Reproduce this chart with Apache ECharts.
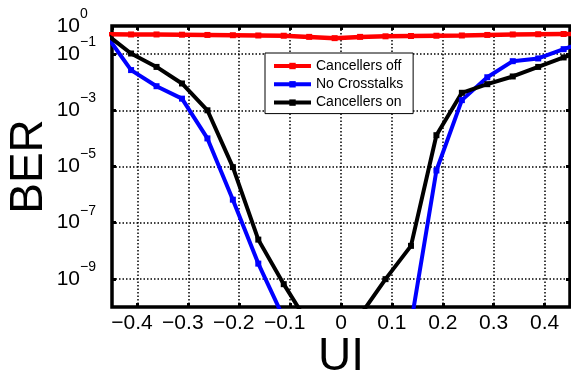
<!DOCTYPE html>
<html>
<head>
<meta charset="utf-8">
<script src="https://cdn.jsdelivr.net/npm/echarts@6/dist/echarts.min.js"></script>
<style>
  html, body { margin: 0; padding: 0; background: #fff; }
  #chart { width: 571px; height: 382px; }
</style>
</head>
<body>
<div id="chart"></div>
<script>
// sampling phase in UI
const ui = [-0.4625, -0.4125, -0.3625, -0.3125, -0.2625, -0.2125, -0.1625, -0.1125, -0.0625, -0.0125,
  0.0375, 0.0875, 0.1375, 0.1875, 0.2375, 0.2875, 0.3375, 0.3875, 0.4375, 0.4875];

const cancellersOff = [0.51, 0.50, 0.50, 0.49, 0.48, 0.47, 0.46, 0.45, 0.41, 0.37,
  0.41, 0.43, 0.44, 0.45, 0.46, 0.48, 0.50, 0.51, 0.52, 0.53];

const noCrosstalks = [0.5, 2.7e-2, 7.2e-3, 2.6e-3, 1.0e-4, 6.6e-7, 3.5e-9, 4e-11, 1e-13, 1e-14,
  1e-14, 1e-13, 2.5e-11, 7.2e-6, 2.3e-3, 1.5e-2, 5.6e-2, 7e-2, 0.15, 0.3];

const cancellersOn = [0.53, 1.05e-1, 3.5e-2, 9e-3, 1.0e-3, 9.5e-6, 2.5e-8, 6.5e-10, 2.3e-11, 1e-12,
  5e-11, 9.8e-10, 1.5e-8, 1.3e-4, 4.2e-3, 8.5e-3, 1.6e-2, 3.5e-2, 7.6e-2, 0.16];

const seriesNames = ["Cancellers off", "No Crosstalks", "Cancellers on"];
const seriesColors = ["#ff0000", "#0000ff", "#000000"];
// grid lines and ticks only every other decade
const oddDecades = [1e-1, 1e-3, 1e-5, 1e-7, 1e-9];

const font = "Liberation Sans, Arial, sans-serif";
const chart = echarts.init(document.getElementById("chart"));

const pairs = (arr) => ui.map((x, i) => [x, arr[i]]);
const decade = (v) => Math.round(Math.log10(v));
const labelled = (e) => e === 0 || e % 2 !== 0;

const dotted = { color: "#000", width: 1.5, type: [1.5, 2] };

const xBase = {
  type: "value",
  min: -0.45,
  max: 0.45,
  splitNumber: 9,
  axisLine: { show: false, onZero: false },
  axisTick: { show: true, inside: true, length: 4, lineStyle: { color: "#000", width: 3 } },
};

const yBase = {
  type: "log",
  logBase: 10,
  min: 1e-10,
  max: 1,
  interval: 1,
  axisLine: { show: false, onZero: false },
  axisTick: { show: true, inside: true, length: 4, customValues: oddDecades, lineStyle: { color: "#000", width: 3 } },
  splitLine: { show: false },
  axisLabel: { show: false },
};

const option = {
  animation: false,
  backgroundColor: "#fff",
  textStyle: { fontFamily: font },
  grid: {
    left: 112, right: 1, top: 26, bottom: 75,
    outerBoundsMode: "none",
    containLabel: false,
    show: true, borderColor: "#000", borderWidth: 3.5, backgroundColor: "#fff",
  },
  legend: {
    orient: "vertical",
    left: 265,
    top: 53,
    itemWidth: 37,
    itemHeight: 8,
    itemGap: 2.3,
    padding: [5, 10, 3, 7],
    borderColor: "#000",
    borderWidth: 1,
    backgroundColor: "#fff",
    lineStyle: { width: 4 },
    textStyle: { fontSize: 14, lineHeight: 16, color: "#000", fontFamily: font },
    data: seriesNames,
  },
  xAxis: [
    {
      ...xBase,
      position: "bottom",
      name: "UI",
      nameLocation: "middle",
      nameGap: 27,
      nameMoveOverlap: false,
      nameTextStyle: { fontSize: 46, color: "#000", fontFamily: font },
      splitLine: { show: true, lineStyle: dotted },
      axisLabel: {
        show: true,
        margin: 6,
        showMinLabel: false,
        showMaxLabel: false,
        color: "#000",
        fontSize: 21,
        fontFamily: font,
        formatter: (v) => {
          if (Math.abs(v * 10 - Math.round(v * 10)) > 1e-6) return "";
          if (Math.abs(v) < 1e-9) return "0";
          if (v < 0) return "{n|\u2212" + (-v).toFixed(1) + "}{p|}";
          return v.toFixed(1);
        },
        rich: {
          n: { fontSize: 21, color: "#000", fontFamily: font },
          p: { width: 11 },
        },
      },
    },
    {
      ...xBase,
      position: "top",
      splitLine: { show: false },
      axisLabel: { show: false },
    },
  ],
  yAxis: [
    {
      // main axis: "10" part of the labels, grid lines
      ...yBase,
      position: "left",
      name: "BER",
      nameLocation: "middle",
      nameGap: 60,
      nameMoveOverlap: false,
      nameTextStyle: { fontSize: 46, color: "#000", fontFamily: font },
      splitLine: { show: true, lineStyle: dotted },
      axisLabel: {
        show: true,
        margin: 32,
        showMaxLabel: true,
        showMinLabel: false,
        color: "#000",
        fontSize: 21,
        lineHeight: 21,
        fontFamily: font,
        formatter: (v) => (labelled(decade(v)) ? "10" : ""),
      },
    },
    {
      ...yBase,
      position: "right",
    },
    {
      // exponent part of the labels
      ...yBase,
      position: "left",
      axisTick: { show: false },
      axisLabel: {
        show: true,
        margin: 32,
        align: "left",
        verticalAlign: "bottom",
        showMaxLabel: true,
        showMinLabel: false,
        color: "#000",
        fontSize: 14,
        lineHeight: 14,
        padding: [0, 0, 5, 0],
        fontFamily: font,
        formatter: (v) => {
          const e = decade(v);
          if (!labelled(e)) return "";
          return e === 0 ? "0" : "\u2212" + (-e);
        },
      },
    },
  ],
  series: [
    { name: seriesNames[0], data: pairs(cancellersOff) },
    { name: seriesNames[1], data: pairs(noCrosstalks) },
    { name: seriesNames[2], data: pairs(cancellersOn) },
  ].map((s, i) => ({
    ...s,
    type: "line",
    z: 3,
    symbol: "rect",
    symbolSize: 6,
    clip: true,
    color: seriesColors[i],
    itemStyle: { color: seriesColors[i] },
    lineStyle: { color: seriesColors[i], width: i === 0 ? 4.5 : 4 },
  })),
};

chart.setOption(option);
</script>
</body>
</html>
